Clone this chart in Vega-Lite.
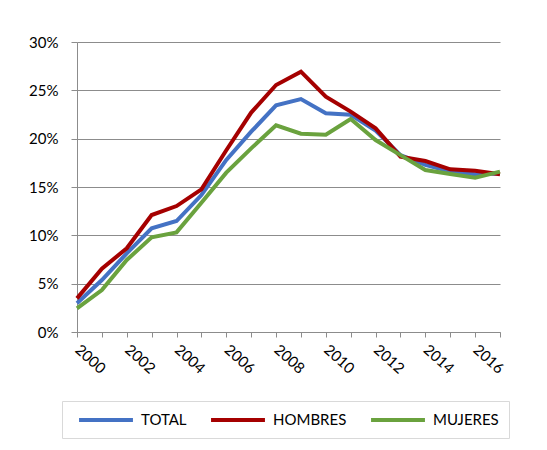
{
  "$schema": "https://vega.github.io/schema/vega-lite/v6.json",
  "autosize": "none",
  "width": 423,
  "height": 290,
  "padding": {"left": 77, "top": 42, "right": 47, "bottom": 118},
  "background": "white",
  "config": {
    "font": "Lato",
    "view": {"stroke": null}
  },
  "data": {
    "values": [
      {"year": 2000, "serie": "TOTAL", "v": 0.0297},
      {"year": 2001, "serie": "TOTAL", "v": 0.0538},
      {"year": 2002, "serie": "TOTAL", "v": 0.0814},
      {"year": 2003, "serie": "TOTAL", "v": 0.1072},
      {"year": 2004, "serie": "TOTAL", "v": 0.1148},
      {"year": 2005, "serie": "TOTAL", "v": 0.1417},
      {"year": 2006, "serie": "TOTAL", "v": 0.178},
      {"year": 2007, "serie": "TOTAL", "v": 0.2072},
      {"year": 2008, "serie": "TOTAL", "v": 0.2345},
      {"year": 2009, "serie": "TOTAL", "v": 0.241},
      {"year": 2010, "serie": "TOTAL", "v": 0.2262},
      {"year": 2011, "serie": "TOTAL", "v": 0.2248},
      {"year": 2012, "serie": "TOTAL", "v": 0.2083},
      {"year": 2013, "serie": "TOTAL", "v": 0.183},
      {"year": 2014, "serie": "TOTAL", "v": 0.1728},
      {"year": 2015, "serie": "TOTAL", "v": 0.1659},
      {"year": 2016, "serie": "TOTAL", "v": 0.1631},
      {"year": 2017, "serie": "TOTAL", "v": 0.164},
      {"year": 2000, "serie": "HOMBRES", "v": 0.0348},
      {"year": 2001, "serie": "HOMBRES", "v": 0.0655},
      {"year": 2002, "serie": "HOMBRES", "v": 0.0866},
      {"year": 2003, "serie": "HOMBRES", "v": 0.121},
      {"year": 2004, "serie": "HOMBRES", "v": 0.1303},
      {"year": 2005, "serie": "HOMBRES", "v": 0.1476},
      {"year": 2006, "serie": "HOMBRES", "v": 0.188},
      {"year": 2007, "serie": "HOMBRES", "v": 0.227},
      {"year": 2008, "serie": "HOMBRES", "v": 0.2555},
      {"year": 2009, "serie": "HOMBRES", "v": 0.2693},
      {"year": 2010, "serie": "HOMBRES", "v": 0.2434},
      {"year": 2011, "serie": "HOMBRES", "v": 0.228},
      {"year": 2012, "serie": "HOMBRES", "v": 0.2107},
      {"year": 2013, "serie": "HOMBRES", "v": 0.1814},
      {"year": 2014, "serie": "HOMBRES", "v": 0.1769},
      {"year": 2015, "serie": "HOMBRES", "v": 0.1683},
      {"year": 2016, "serie": "HOMBRES", "v": 0.1669},
      {"year": 2017, "serie": "HOMBRES", "v": 0.1631},
      {"year": 2000, "serie": "MUJERES", "v": 0.0245},
      {"year": 2001, "serie": "MUJERES", "v": 0.0434},
      {"year": 2002, "serie": "MUJERES", "v": 0.0745},
      {"year": 2003, "serie": "MUJERES", "v": 0.0979},
      {"year": 2004, "serie": "MUJERES", "v": 0.1031},
      {"year": 2005, "serie": "MUJERES", "v": 0.1338},
      {"year": 2006, "serie": "MUJERES", "v": 0.1648},
      {"year": 2007, "serie": "MUJERES", "v": 0.19},
      {"year": 2008, "serie": "MUJERES", "v": 0.2138},
      {"year": 2009, "serie": "MUJERES", "v": 0.2052},
      {"year": 2010, "serie": "MUJERES", "v": 0.2041},
      {"year": 2011, "serie": "MUJERES", "v": 0.2203},
      {"year": 2012, "serie": "MUJERES", "v": 0.1986},
      {"year": 2013, "serie": "MUJERES", "v": 0.183},
      {"year": 2014, "serie": "MUJERES", "v": 0.1676},
      {"year": 2015, "serie": "MUJERES", "v": 0.1634},
      {"year": 2016, "serie": "MUJERES", "v": 0.1597},
      {"year": 2017, "serie": "MUJERES", "v": 0.1659}
    ]
  },
  "mark": {"type": "line", "strokeWidth": 4, "strokeJoin": "miter"},
  "encoding": {
    "x": {
      "field": "year",
      "type": "quantitative",
      "scale": {"domain": [2000, 2017], "nice": false, "zero": false},
      "axis": {
        "title": null,
        "values": [2000, 2001, 2002, 2003, 2004, 2005, 2006, 2007, 2008, 2009, 2010, 2011, 2012, 2013, 2014, 2015, 2016, 2017],
        "labelExpr": "datum.value % 2 == 0 ? datum.value : ''",
        "grid": false,
        "domainColor": "#8c8c8c",
        "tickColor": "#8c8c8c",
        "tickSize": 5,
        "labelAngle": 42,
        "labelAlign": "left",
        "labelBaseline": "middle",
        "labelPadding": 10,
        "labelFontSize": 15,
        "labelColor": "#000000",
        "labelFont": "Lato",
        "labelFlush": false,
        "labelOverlap": false
      }
    },
    "y": {
      "field": "v",
      "type": "quantitative",
      "scale": {"domain": [0, 0.3], "nice": false},
      "axis": {
        "title": null,
        "values": [0, 0.05, 0.1, 0.15, 0.2, 0.25, 0.3],
        "format": ".0%",
        "grid": true,
        "gridColor": "#8c8c8c",
        "gridWidth": 1,
        "domainColor": "#8c8c8c",
        "tickColor": "#8c8c8c",
        "tickSize": 6,
        "labelPadding": 13,
        "labelFontSize": 15,
        "labelColor": "#000000",
        "labelFont": "Lato"
      }
    },
    "color": {
      "field": "serie",
      "type": "nominal",
      "sort": ["TOTAL", "HOMBRES", "MUJERES"],
      "scale": {"domain": ["TOTAL", "HOMBRES", "MUJERES"], "range": ["#4472C4", "#A50000", "#6AA23E"]},
      "legend": {
        "title": null,
        "orient": "none",
        "legendX": -15,
        "legendY": 359,
        "direction": "horizontal",
        "strokeColor": "#d9d9d9",
        "padding": 10,
        "symbolType": "M-3.85,0H3.85",
        "symbolSize": 196,
        "symbolStrokeWidth": 4,
        "labelFontSize": 15,
        "labelColor": "#000000",
        "labelFont": "Lato",
        "columnPadding": 16,
        "symbolOffset": 25,
        "labelOffset": 26
      }
    }
  }
}
